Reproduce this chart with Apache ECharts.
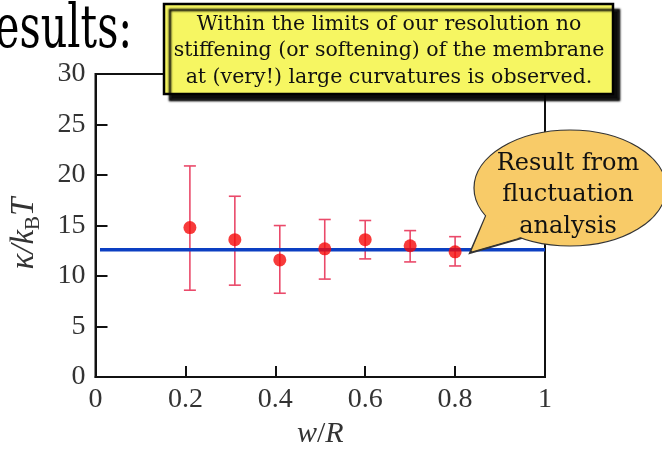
<!DOCTYPE html>
<html>
<head>
<meta charset="utf-8">
<script src="https://cdn.jsdelivr.net/npm/echarts/dist/echarts.min.js"></script>
<style>
  html, body { margin: 0; padding: 0; background: #fff; }
  #chart { width: 662px; height: 454px; }
</style>
</head>
<body>
<div id="chart"></div>
<script>
// w/R positions of the simulated membranes, bending rigidity κ/kBT and error bar ends
const wR = [0.21, 0.31, 0.41, 0.51, 0.60, 0.70, 0.80];
const kappa = [14.8, 13.6, 11.6, 12.7, 13.6, 13.0, 12.4];
const errHi = [20.9, 17.9, 15.0, 15.6, 15.5, 14.5, 13.9];
const errLo = [8.6, 9.1, 8.3, 9.7, 11.7, 11.4, 11.0];
// fluctuation analysis result (horizontal line)
const fluctX = [0.01, 1.0];
const fluctKappa = 12.6;

const xTicks = ['0', '0.2', '0.4', '0.6', '0.8', '1'];
const yTicks = ['0', '5', '10', '15', '20', '25', '30'];

const noteText = 'Within the limits of our resolution no\nstiffening (or softening) of the membrane\nat (very!) large curvatures is observed.';
const bubbleText = 'Result from\nfluctuation\nanalysis';

const tickFont = { fontFamily: 'Liberation Serif', fontSize: 28, color: '#333' };

const c = echarts.init(document.getElementById('chart'));
c.setOption({
  animation: false,
  backgroundColor: '#fff',
  grid: { left: 93, right: 117, top: 74, bottom: 71, show: true, borderColor: '#111', borderWidth: 2, backgroundColor: 'transparent' },
  xAxis: {
    type: 'value', min: 0, max: 1, interval: 0.2,
    name: '{i|w}{n|/}{i|R}', nameLocation: 'middle', nameGap: 41,
    nameTextStyle: { rich: {
      i: { fontFamily: 'Liberation Serif', fontStyle: 'italic', fontSize: 30, color: '#333' },
      n: { fontFamily: 'Liberation Serif', fontSize: 30, color: '#333' }
    } },
    axisLine: { lineStyle: { color: '#111', width: 2 } },
    axisTick: { inside: true, length: 11, lineStyle: { color: '#111', width: 2 } },
    axisLabel: Object.assign({ margin: 9, formatter: (v) => xTicks[Math.round(v / 0.2)] }, tickFont),
    splitLine: { show: false }
  },
  yAxis: {
    type: 'value', min: 0, max: 30, interval: 5,
    name: '{i|κ/k}{s|B}{i|T}', nameLocation: 'middle', nameGap: 52,
    nameTextStyle: { padding: [0, 16, 0, 0], rich: {
      i: { fontFamily: 'Liberation Serif', fontStyle: 'italic', fontSize: 33, color: '#333', lineHeight: 38 },
      s: { fontFamily: 'Liberation Serif', fontSize: 21, color: '#333', lineHeight: 38, verticalAlign: 'bottom' }
    } },
    axisLine: { lineStyle: { color: '#111', width: 2 } },
    axisTick: { inside: true, length: 12, lineStyle: { color: '#111', width: 2 } },
    axisLabel: Object.assign({ margin: 10, formatter: (v) => yTicks[Math.round(v / 5)] }, tickFont),
    splitLine: { show: false }
  },
  series: [
    {
      type: 'custom', z: 2,
      data: wR.map((x, i) => [x, errLo[i], errHi[i]]),
      renderItem: function (params, api) {
        const top = api.coord([api.value(0), api.value(2)]);
        const bot = api.coord([api.value(0), api.value(1)]);
        const hw = 6;
        const st = { stroke: '#ea4a6a', lineWidth: 1.6 };
        return { type: 'group', children: [
          { type: 'line', shape: { x1: top[0], y1: top[1], x2: bot[0], y2: bot[1] }, style: st },
          { type: 'line', shape: { x1: top[0] - hw, y1: top[1], x2: top[0] + hw, y2: top[1] }, style: st },
          { type: 'line', shape: { x1: bot[0] - hw, y1: bot[1], x2: bot[0] + hw, y2: bot[1] }, style: st }
        ] };
      }
    },
    {
      type: 'line', z: 3, symbol: 'none',
      data: fluctX.map((x) => [x, fluctKappa]),
      lineStyle: { color: '#0c3fc2', width: 3.5 }
    },
    {
      type: 'scatter', z: 4, symbol: 'circle', symbolSize: 13,
      data: wR.map((x, i) => [x, kappa[i]]),
      itemStyle: { color: '#f50a0a' }
    }
  ],
  graphic: [
    // slide heading, its first letter runs off the left edge
    { type: 'text', x: -36, y: 32, scaleX: 0.70, z: 10,
      style: { text: 'Results:', font: '59px "DejaVu Serif"', fill: '#000', verticalAlign: 'middle' } },
    // yellow note box
    { type: 'rect', z: 20, shape: { x: 164, y: 4, width: 449, height: 90 },
      style: { fill: '#f6f662', stroke: '#000', lineWidth: 2.5, shadowColor: 'rgba(0,0,0,0.95)', shadowBlur: 2, shadowOffsetX: 6, shadowOffsetY: 6 } },
    { type: 'text', z: 21, x: 389, y: 51,
      style: { text: noteText, font: '20.5px "DejaVu Serif"', fill: '#111', align: 'center', verticalAlign: 'middle', lineHeight: 26.5 } },
    // speech bubble
    { type: 'polygon', z: 30, shape: { points: [[486, 216], [470, 253], [522, 238]] },
      style: { fill: '#f8cb68', stroke: '#333', lineWidth: 2 } },
    { type: 'ellipse', z: 31, shape: { cx: 570, cy: 188, rx: 96, ry: 58 },
      style: { fill: '#f8cb68', stroke: '#333', lineWidth: 1.2 } },
    { type: 'polygon', z: 32, shape: { points: [[486.5, 215], [471.5, 251], [521, 237]] },
      style: { fill: '#f8cb68' } },
    { type: 'text', z: 33, x: 568, y: 195,
      style: { text: bubbleText, font: '24px "DejaVu Serif"', fill: '#111', align: 'center', verticalAlign: 'middle', lineHeight: 31.5 } }
  ]
});
</script>
</body>
</html>
